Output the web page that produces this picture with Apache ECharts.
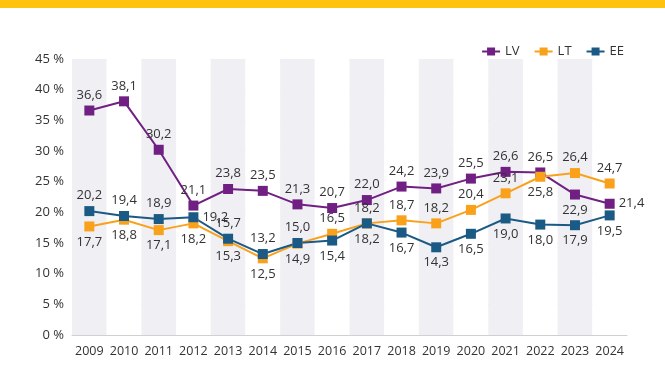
<!DOCTYPE html>
<html>
<head>
<meta charset="utf-8">
<script src="https://cdn.jsdelivr.net/npm/echarts@6/dist/echarts.min.js"></script>
<style>
  html, body { margin: 0; padding: 0; background: #fff; }
  #bar { height: 8px; background: #FFC20E; }
  #main { width: 665px; height: 367px; }
</style>
</head>
<body>
<div id="bar"></div>
<div id="main"></div>
<script>
// data
var years = ['2009', '2010', '2011', '2012', '2013', '2014', '2015', '2016',
    '2017', '2018', '2019', '2020', '2021', '2022', '2023', '2024'];
var lv = [36.6, 38.1, 30.2, 21.1, 23.8, 23.5, 21.3, 20.7, 22.0, 24.2, 23.9, 25.5, 26.6, 26.5, 22.9, 21.4];
var lt = [17.7, 18.8, 17.1, 18.2, 15.3, 12.5, 14.9, 16.5, 18.2, 18.7, 18.2, 20.4, 23.1, 25.8, 26.4, 24.7];
var ee = [20.2, 19.4, 18.9, 19.2, 15.7, 13.2, 15.0, 15.4, 18.2, 16.7, 14.3, 16.5, 19.0, 18.0, 17.9, 19.5];
var yTicks = [0, 5, 10, 15, 20, 25, 30, 35, 40, 45];

// label placement per point (t = top, b = bottom, r = right)
var lvPos = ['t','t','t','t','t','t','t','t','t','t','t','t','t','t','b','r'];
var ltPos = ['b','b','b','b','b','b','b','t','t','t','t','t','t','b','t','t'];
var eePos = ['t','t','t','r','t','t','t','b','b','b','b','b','b','b','b','b'];

var posName = {t: 'top', b: 'bottom', r: 'right'};

function makeData(values, pos) {
    var out = [];
    for (var i = 0; i < values.length; i++) {
        out.push({value: values[i], label: {position: posName[pos[i]]}});
    }
    return out;
}

function fmt(p) {
    return p.value.toFixed(1).replace('.', ',');
}

var font = 'Open Sans';
var chart = echarts.init(document.getElementById('main'));

function serie(name, color, values, pos) {
    return {
        name: name,
        type: 'line',
        data: makeData(values, pos),
        symbol: 'rect',
        symbolSize: 10,
        lineStyle: {color: color, width: 2},
        itemStyle: {color: color},
        label: {
            show: true,
            formatter: fmt,
            color: '#333',
            fontSize: 13,
            fontFamily: font,
            distance: 4
        },
        animation: false
    };
}

chart.setOption({
    animation: false,
    textStyle: {fontFamily: font},
    legend: {
        right: 36,
        top: 32,
        itemWidth: 18,
        itemHeight: 10,
        itemGap: 14,
        textStyle: {color: '#333', fontSize: 13, fontFamily: font},
        data: ['LV', 'LT', 'EE']
    },
    grid: {left: 72, right: 38, top: 51, bottom: 40},
    xAxis: {
        type: 'category',
        data: years,
        boundaryGap: true,
        axisTick: {show: false},
        axisLine: {lineStyle: {color: '#d0d0d0'}},
        axisLabel: {interval: 0, color: '#333', fontSize: 12.5, fontFamily: font, margin: 10},
        splitArea: {show: true, interval: 0, areaStyle: {color: ['#f0f0f4', '#ffffff']}}
    },
    yAxis: {
        type: 'value',
        min: yTicks[0],
        max: yTicks[yTicks.length - 1],
        interval: 5,
        axisLabel: {
            color: '#333',
            fontSize: 13,
            fontFamily: font,
            margin: 8,
            formatter: function (v) { return v + ' %'; }
        },
        splitLine: {lineStyle: {color: '#d9d9d9', width: 1}}
    },
    series: [
        serie('LV', '#702082', lv, lvPos),
        serie('LT', '#F9A11B', lt, ltPos),
        serie('EE', '#1B5A85', ee, eePos)
    ]
});
</script>
</body>
</html>
